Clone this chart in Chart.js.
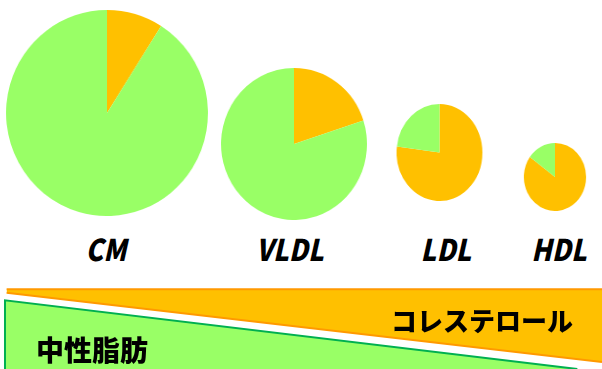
<!DOCTYPE html>
<html>
<head>
<meta charset="utf-8">
<script src="https://cdn.jsdelivr.net/npm/chart.js@4/dist/chart.umd.min.js"></script>
<style>
  html, body { margin: 0; padding: 0; background: #fff; }
  #stage { position: relative; width: 602px; height: 369px; overflow: hidden; }
  .pie { position: absolute; }
  .pie canvas { display: block; }
  .lbl {
    position: absolute; width: 120px; text-align: center;
    font-family: "Noto Sans CJK JP", "Noto Sans", sans-serif;
    font-weight: 900; font-style: italic; font-size: 30px; line-height: 30px;
    color: #000; top: 233px; transform: scaleX(0.88);
  }
  .jp {
    position: absolute; white-space: nowrap;
    font-family: "Noto Sans CJK JP", sans-serif; font-weight: 900; color: #000;
  }
  #wedge { position: absolute; left: 0; top: 280px; }
</style>
</head>
<body>
<div id="stage">
  <div class="pie" id="p0" style="left:4px;top:10px;transform:scaleX(0.98)"><canvas id="pie0" width="206" height="206"></canvas></div>
  <div class="pie" id="p1" style="left:218px;top:68px;transform:scaleX(0.96)"><canvas id="pie1" width="152" height="152"></canvas></div>
  <div class="pie" id="p2" style="left:391px;top:104px;transform:scaleX(0.885)"><canvas id="pie2" width="97" height="97"></canvas></div>
  <div class="pie" id="p3" style="left:521px;top:143px;transform:scaleX(0.915)"><canvas id="pie3" width="68" height="68"></canvas></div>

  <div class="lbl" id="l0" style="left:46px"></div>
  <div class="lbl" id="l1" style="left:230px"></div>
  <div class="lbl" id="l2" style="left:386px"></div>
  <div class="lbl" id="l3" style="left:499px"></div>

  <canvas id="wedge" width="602" height="89"></canvas>
  <div class="jp" id="cholText" style="left:391px;top:307px;font-size:26px;line-height:26px"></div>
  <div class="jp" id="tgText" style="left:36px;top:335px;font-size:28px;line-height:28px"></div>
</div>
<script>
"use strict";

// lipoprotein classes, left to right
const lipoproteins = ["CM", "VLDL", "LDL", "HDL"];
// share of cholesterol / triglyceride in each particle (%)
const cholesterolPct = [9, 20, 77, 85];
const triglyceridePct = [91, 80, 23, 15];

const cholName = "コレステロール";
const tgName = "中性脂肪";

// the two wedges underneath: x runs 0..100 across, y 0..100 bottom to top
const cholTopEdge = [{x: 1.1, y: 89.5}, {x: 100, y: 89.5}];
const cholLowEdge = [{x: 1.1, y: 85.6}, {x: 100, y: 7.9}];
const tgEdge = [{x: 0.83, y: 0}, {x: 0.83, y: 77.2}, {x: 95.9, y: 0}];

const ORANGE = "#FFC000";
const GREEN = "#99FF66";

function makePie(idx) {
    var ctx = document.getElementById("pie" + idx).getContext("2d");
    return new Chart(ctx, {
        type: "pie",
        data: {
            labels: [cholName, tgName],
            datasets: [{
                data: [cholesterolPct[idx], triglyceridePct[idx]],
                backgroundColor: [ORANGE, GREEN],
                borderWidth: 0,
                hoverOffset: 0,
                offset: 0
            }]
        },
        options: {
            responsive: false,
            animation: false,
            events: [],
            layout: { padding: 0 },
            plugins: { legend: { display: false }, tooltip: { enabled: false } }
        }
    });
}

lipoproteins.forEach((name, i) => {
    makePie(i);
    document.getElementById("l" + i).textContent = name;
});

document.getElementById("cholText").textContent = cholName;
document.getElementById("tgText").textContent = tgName;

new Chart(document.getElementById("wedge").getContext("2d"), {
    type: "line",
    data: {
        datasets: [
            {
                label: cholName + " top",
                data: cholTopEdge,
                borderColor: "#FF9900",
                borderWidth: 2,
                pointRadius: 0,
                fill: false
            },
            {
                label: cholName,
                data: cholLowEdge,
                borderColor: "#FF9900",
                borderWidth: 2,
                pointRadius: 0,
                backgroundColor: ORANGE,
                fill: "-1"
            },
            {
                label: tgName,
                data: tgEdge,
                borderColor: "#00B050",
                borderWidth: 2,
                pointRadius: 0,
                backgroundColor: GREEN,
                fill: "start"
            }
        ]
    },
    options: {
        responsive: false,
        animation: false,
        events: [],
        layout: { padding: 0 },
        scales: {
            x: { type: "linear", min: 0, max: 100, display: false },
            y: { min: 0, max: 100, display: false }
        },
        plugins: { legend: { display: false }, tooltip: { enabled: false } }
    }
});
</script>
</body>
</html>
